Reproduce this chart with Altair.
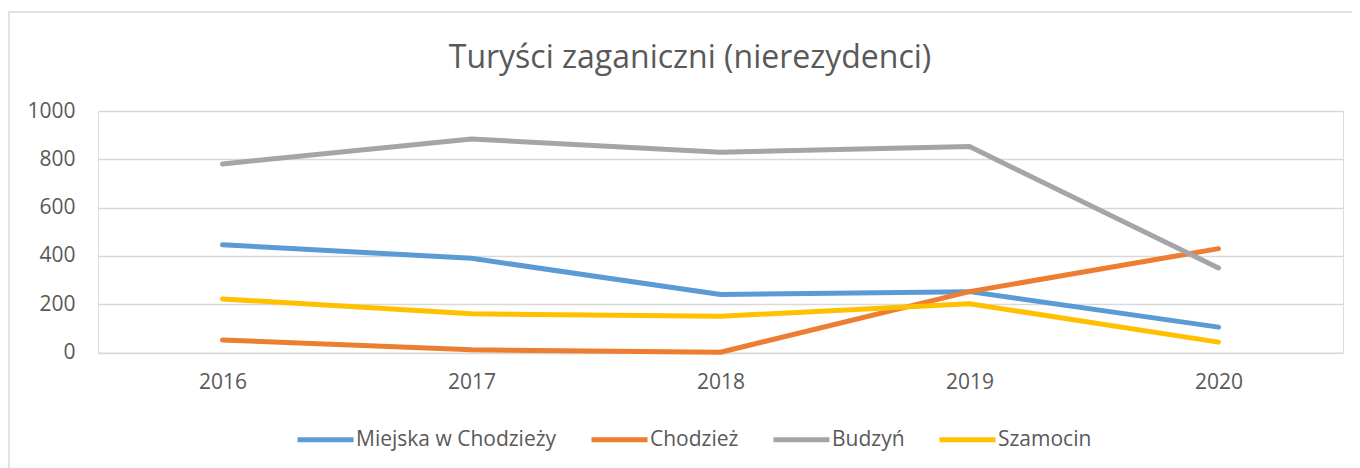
import altair as alt
import pandas as pd

title_text = "Turyści zaganiczni (nierezydenci)"
years = ["2016", "2017", "2018", "2019", "2020"]
series_names = ["Miejska w Chodzieży", "Chodzież", "Budzyń", "Szamocin"]
miejska = [446, 390, 240, 252, 105]
chodziez = [52, 11, 1, 252, 430]
budzyn = [781, 884, 829, 853, 350]
szamocin = [222, 160, 150, 202, 43]
colors = ["#5B9BD5", "#ED7D31", "#A5A5A5", "#FFC000"]
y_ticks = [0, 200, 400, 600, 800, 1000]

rows = []
for name, vals in zip(series_names, [miejska, chodziez, budzyn, szamocin]):
    for yr, v in zip(years, vals):
        rows.append({"rok": yr, "seria": name, "wartosc": v})
df = pd.DataFrame(rows)

FONT = "Open Sans"
W, H = 1245, 241.5

lines = alt.Chart(df).mark_line(strokeWidth=5, strokeCap="round", strokeJoin="round").encode(
    x=alt.X("rok:N", sort=years, scale=alt.Scale(type="point", padding=0.5),
            axis=alt.Axis(title=None, labelAngle=0, ticks=False, domain=False, grid=False,
                          labelFontSize=21, labelFont=FONT, labelColor="#595959", labelPadding=19)),
    y=alt.Y("wartosc:Q", scale=alt.Scale(domain=[0, 1000], nice=False),
            axis=alt.Axis(title=None, values=y_ticks, format="d", ticks=False, domain=False,
                          gridColor="#D9D9D9", gridWidth=1.5,
                          labelFontSize=21, labelFont=FONT, labelColor="#595959", labelPadding=23)),
    color=alt.Color("seria:N", sort=series_names,
                    scale=alt.Scale(domain=series_names, range=colors),
                    legend=alt.Legend(title=None, orient="none", direction="horizontal",
                                      legendX=197, legendY=298, symbolType="stroke",
                                      symbolSize=3136, symbolStrokeWidth=5,
                                      labelFontSize=21, labelFont=FONT, labelColor="#595959",
                                      labelLimit=500, labelOffset=0, columnPadding=24, padding=0)),
)

border = alt.Chart(pd.DataFrame({"b": [0]})).mark_rect(
    fill=None, stroke="#D9D9D9", strokeWidth=1.5
).encode(x=alt.value(-89), x2=alt.value(1400), y=alt.value(-99), y2=alt.value(500))

title = alt.Chart(pd.DataFrame({"t": [title_text]})).mark_text(
    font=FONT, fontSize=32, color="#595959", align="center", baseline="alphabetic"
).encode(text="t:N", x=alt.value(592), y=alt.value(-43))

chart = alt.layer(border, title, lines).properties(
    width=W, height=H,
    autosize=alt.AutoSizeParams(type="none"),
    padding={"left": 90, "top": 103, "right": 9, "bottom": 116},
).configure_view(stroke=None).configure(background="white")

chart.save("out.html", embed_options={"renderer": "svg", "actions": False})
